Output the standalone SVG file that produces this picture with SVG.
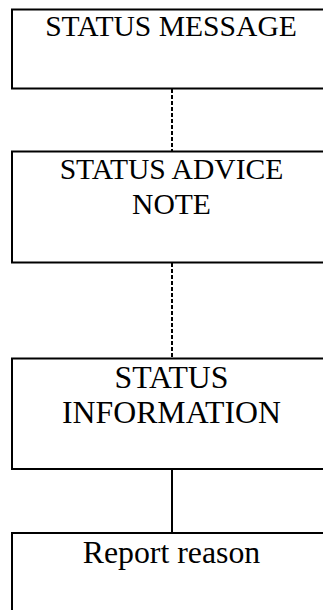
<svg xmlns="http://www.w3.org/2000/svg" width="323" height="610" viewBox="0 0 323 610">
  <style>
    .box { fill: #ffffff; stroke: #000000; stroke-width: 2; }
    .label { font-family: "Liberation Serif", "Times New Roman", serif; fill: #000000; text-anchor: middle; }
    .s29 { font-size: 29.6px; }
    .s31 { font-size: 31.8px; }
    .dash { stroke: #000000; stroke-width: 2; stroke-dasharray: 4 2; fill: none; }
    .solid { stroke: #000000; stroke-width: 2; fill: none; }
  </style>
  <rect width="323" height="610" fill="#ffffff"/>

  <g id="connectors">
    <line class="dash" x1="172" y1="89" x2="172" y2="151"/>
    <line class="dash" x1="172" y1="263" x2="172" y2="358"/>
    <line class="solid" x1="172" y1="469" x2="172" y2="533"/>
  </g>

  <g id="status-message">
    <rect class="box" x="12" y="9.5" width="330" height="79"/>
    <text class="label s29" x="171" y="36">STATUS MESSAGE</text>
  </g>

  <g id="status-advice-note">
    <rect class="box" x="12" y="151.5" width="330" height="111"/>
    <text class="label s29" x="171.5" y="179">STATUS ADVICE</text>
    <text class="label s29" x="171.5" y="214">NOTE</text>
  </g>

  <g id="status-information">
    <rect class="box" x="12" y="358.5" width="330" height="110.5"/>
    <text class="label s31" x="171.5" y="388">STATUS</text>
    <text class="label s31" x="171.5" y="423">INFORMATION</text>
  </g>

  <g id="report-reason">
    <rect class="box" x="12" y="533" width="330" height="100"/>
    <text class="label s31" x="171.5" y="563">Report reason</text>
  </g>
</svg>
